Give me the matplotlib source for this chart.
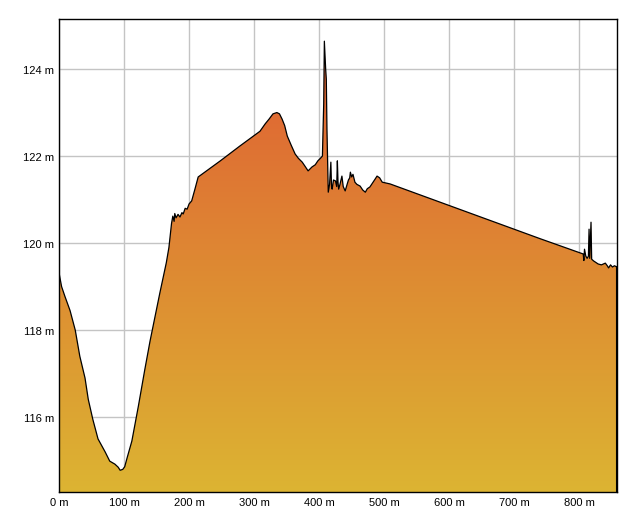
import numpy as np
import matplotlib
matplotlib.use("Agg")
import matplotlib.pyplot as plt
from matplotlib.colors import LinearSegmentedColormap

# ── Elevation profile (distance in m, elevation in m) ───────────────────────
dist = [0, 4, 9, 17, 25, 32, 40, 45, 52, 60, 71, 78, 86, 91, 94, 98, 101,
        105, 112, 122, 132, 140, 155, 165, 169, 173, 175, 177, 178, 180, 183,
        186, 189, 191, 194, 197, 200, 204, 209, 214,
        248, 278, 309, 317, 323, 329, 335, 339, 343, 347, 351, 357, 363, 368,
        374, 379, 383, 389, 394, 398, 402, 405, 407, 408, 410, 411, 412, 414,
        416, 418, 419, 420, 422, 425, 427, 428, 429, 430, 432, 435, 437, 440,
        443, 445, 447, 448, 450, 452, 455, 458, 463, 467, 471, 474, 478, 482,
        486, 489, 493, 497, 503, 509,
        740, 806, 807, 808, 810, 812, 814, 815, 816, 818, 819, 822, 826, 829,
        834, 840, 843, 845, 848, 851, 854, 858]
elev = [119.32, 119.0, 118.78, 118.45, 118.0, 117.4, 116.9, 116.41, 115.95,
        115.5, 115.2, 114.99, 114.92, 114.85, 114.78, 114.8, 114.86,
        115.08, 115.45, 116.25, 117.1, 117.75, 118.85, 119.55, 119.9, 120.45,
        120.62, 120.5, 120.68, 120.58, 120.66, 120.6, 120.7, 120.67, 120.8,
        120.78, 120.9, 120.97, 121.24, 121.52,
        121.89, 122.23, 122.57, 122.74, 122.85, 122.97, 123.0, 122.97, 122.85,
        122.7, 122.46, 122.25, 122.05, 121.95, 121.86, 121.75, 121.66, 121.75,
        121.8, 121.89, 121.95, 122.0, 123.2, 124.64, 124.0, 123.77, 122.62,
        121.17, 121.35, 121.86, 121.3, 121.24, 121.45, 121.43, 121.3, 121.89,
        121.4, 121.24, 121.35, 121.54, 121.3, 121.2, 121.35, 121.45, 121.5,
        121.63, 121.52, 121.58, 121.4, 121.35, 121.31, 121.22, 121.17, 121.25,
        121.29, 121.38, 121.47, 121.54, 121.5, 121.4, 121.38, 121.36,
        120.1, 119.75, 119.6, 119.86, 119.7, 119.65, 119.7, 120.32, 119.65,
        120.48, 119.63, 119.59, 119.55, 119.52, 119.5, 119.54, 119.48, 119.43,
        119.5, 119.45, 119.48, 119.45]

x_ticks = [0, 100, 200, 300, 400, 500, 600, 700, 800]
y_ticks = [116, 118, 120, 122, 124]
x_max = 858
y_min, y_max = 114.28, 125.15

# ── Figure ──────────────────────────────────────────────────────────────────
fig = plt.figure(figsize=(6.27, 5.10), dpi=100)
ax = fig.add_axes([0.0941, 0.0333, 0.8900, 0.9275])
ax.set_xlim(0, x_max)
ax.set_ylim(y_min, y_max)

# gradient fill clipped to the profile
cmap = LinearSegmentedColormap.from_list("elev", ["#dcb432", "#e05a34"])
grad = np.linspace(0, 1, 256).reshape(-1, 1)
img = ax.imshow(grad, cmap=cmap, origin="lower", aspect="auto",
                extent=(0, x_max, y_min, y_max), zorder=2)
poly = ax.fill_between(dist, elev, y_min, facecolor="none", edgecolor="none")
img.set_clip_path(poly.get_paths()[0], transform=ax.transData)

ax.plot(dist, elev, color="black", lw=0.9, zorder=3)
ax.plot([dist[-1], dist[-1]], [elev[-1], y_min], color="black", lw=1.5, zorder=3)

ax.set_xticks(x_ticks)
ax.set_yticks(y_ticks)
ax.set_xticklabels([f"{v} m" for v in x_ticks], family="Liberation Sans")
ax.set_yticklabels([f"{v} m" for v in y_ticks], family="Liberation Sans")
ax.tick_params(length=0, labelsize=8, pad=3.5)
ax.grid(True, color="#c4c4c4", lw=1)
ax.set_axisbelow(True)
for s in ax.spines.values():
    s.set_color("black")
    s.set_linewidth(1)

fig.savefig("out.png", dpi=100)
